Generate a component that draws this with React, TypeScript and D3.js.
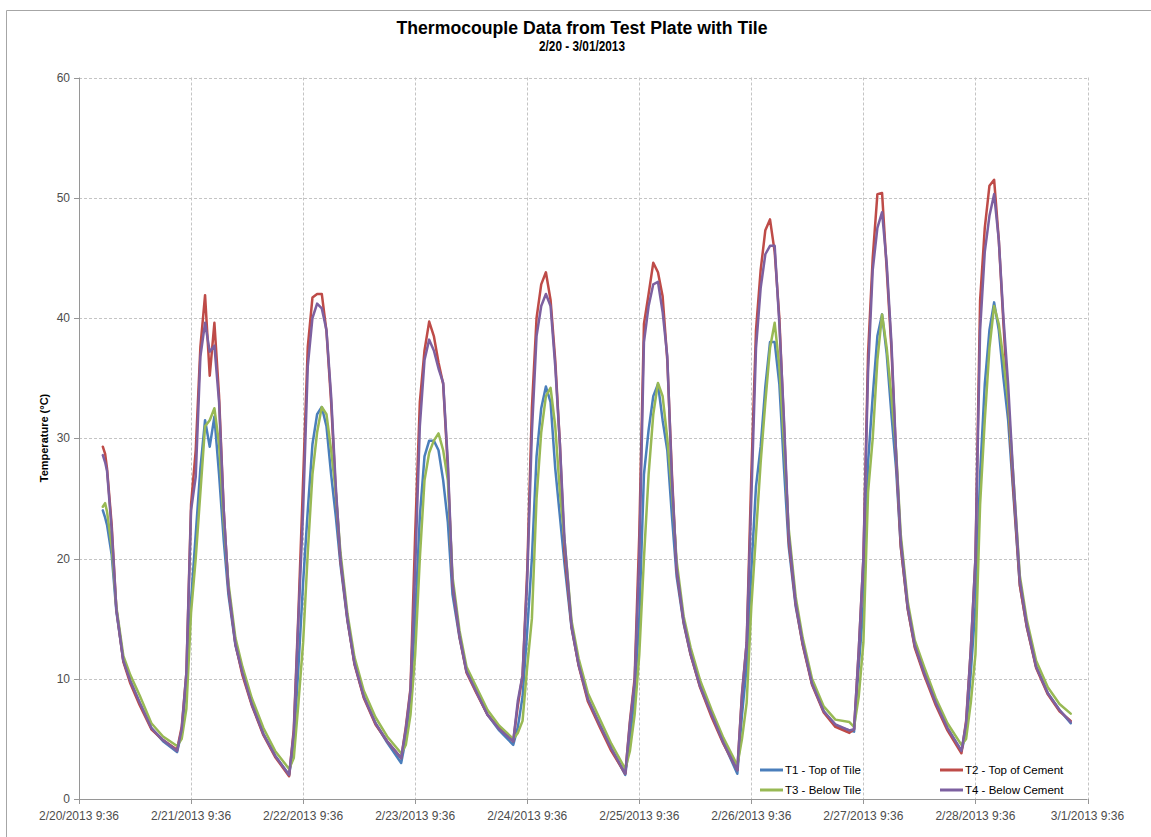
import * as d3 from 'd3';

// hours since 2/20/2013 9:36
const hours = [
  5.1, 5.6, 6, 7, 8, 9.5, 11, 13, 15.5, 18,
  21, 22, 23, 24, 25, 26, 27, 28, 29, 30, 31, 32, 33.5, 35, 37, 39.5, 42,
  45, 46, 47, 48, 49, 50, 51, 52, 53, 54, 55, 56, 57.5, 59, 61, 63.5, 66,
  69, 70, 71, 72, 73, 74, 75, 76, 77, 78, 79, 80, 81.5, 83, 85, 87.5, 90,
  93, 94, 95, 96, 97, 98, 99, 100, 101, 102, 103, 104, 105.5, 107, 109, 111.5, 114,
  117, 118, 119, 120, 121, 122, 123, 124, 125, 126, 127, 128, 129.5, 131, 133, 135.5, 138,
  141, 142, 143, 144, 145, 146, 147, 148, 149, 150, 151, 152, 153.5, 155, 157, 159.5, 162,
  165, 166, 167, 168, 169, 170, 171, 172, 173, 174, 175, 176, 177.5, 179, 181, 183.5, 186,
  189, 190, 191, 192, 193, 194, 195, 196, 197, 198, 199, 200, 201.5, 203, 205, 207.5, 210,
  212.4,
];

const t1TopOfTile = [
  24.0, 23.4, 22.8, 20.3, 15.6, 11.5, 9.8, 8.0, 5.9, 4.8,
  3.9, 5.6, 9.5, 16.5, 22.0, 27.5, 31.5, 29.3, 31.8, 27.0, 21.5, 17.0, 12.8, 10.5, 7.9, 5.4, 3.6,
  2.0, 4.5, 11.0, 18.0, 24.0, 29.5, 32.0, 32.6, 31.0, 27.0, 23.5, 19.5, 14.8, 11.3, 8.5, 6.3, 4.7,
  3.0, 5.0, 8.5, 15.0, 23.5, 28.5, 29.8, 29.8, 29.0, 26.5, 23.0, 17.0, 13.4, 10.6, 9.0, 7.0, 5.7,
  4.5, 6.0, 8.5, 14.0, 20.0, 28.5, 32.5, 34.3, 33.0, 27.5, 23.5, 19.5, 14.2, 11.2, 8.3, 6.2, 4.2,
  2.0, 5.0, 8.5, 15.0, 27.0, 30.7, 33.5, 34.5, 31.5, 29.0, 23.5, 18.5, 14.6, 12.0, 9.4, 7.0, 4.7,
  2.1, 7.0, 11.0, 19.0, 26.0, 29.3, 34.3, 38.0, 38.0, 34.5, 27.5, 21.0, 16.0, 12.9, 9.6, 7.3, 6.1,
  5.7, 5.6, 11.0, 16.0, 28.0, 33.5, 38.5, 40.3, 37.0, 32.0, 27.5, 21.0, 15.8, 12.7, 10.5, 8.0, 5.9,
  4.0, 5.5, 10.5, 16.0, 27.0, 34.5, 39.0, 41.3, 39.0, 35.0, 31.5, 26.0, 17.8, 14.3, 11.0, 8.8, 7.4,
  6.3,
];

const t2TopOfCement = [
  29.3, 28.7, 27.5, 22.8, 15.8, 11.4, 9.6, 7.8, 5.8, 4.9,
  4.1, 6.0, 10.5, 24.5, 29.0, 37.6, 41.9, 35.2, 39.6, 33.5, 24.0, 17.5, 12.9, 10.3, 7.8, 5.3, 3.5,
  1.9, 5.8, 15.5, 26.5, 37.6, 41.7, 42.0, 42.0, 38.9, 33.0, 25.5, 19.8, 14.9, 11.2, 8.4, 6.2, 4.8,
  3.4, 6.0, 9.2, 22.0, 33.0, 37.3, 39.7, 38.5, 36.3, 34.5, 27.5, 17.8, 13.5, 10.5, 8.9, 7.0, 5.9,
  4.8, 7.8, 10.3, 19.0, 32.5, 40.0, 42.8, 43.8, 41.5, 36.5, 29.5, 20.5, 14.3, 11.1, 8.1, 6.0, 4.0,
  2.1, 6.5, 10.0, 22.0, 39.5, 42.0, 44.6, 43.8, 41.8, 36.5, 27.0, 19.0, 14.7, 12.0, 9.3, 6.8, 4.6,
  2.4, 8.8, 13.0, 27.0, 39.0, 44.0, 47.3, 48.2, 45.5, 40.0, 31.0, 21.5, 16.2, 12.8, 9.5, 7.2, 6.0,
  5.5, 5.8, 12.3, 20.0, 37.0, 45.0, 50.3, 50.4, 44.0, 37.5, 28.5, 21.0, 15.8, 12.6, 10.3, 7.8, 5.7,
  3.8, 6.5, 12.4, 20.0, 41.5, 47.5, 51.0, 51.5, 46.5, 39.5, 33.0, 26.5, 17.8, 14.3, 10.9, 8.7, 7.3,
  6.5,
];

const t3BelowTile = [
  24.3, 24.6, 23.9, 21.0, 16.0, 11.9, 10.3, 8.6, 6.3, 5.2,
  4.4, 5.0, 7.5, 15.5, 20.0, 25.5, 31.0, 31.5, 32.5, 29.5, 23.0, 18.0, 13.4, 11.0, 8.4, 5.9, 4.0,
  2.5, 3.4, 8.0, 13.0, 20.5, 27.0, 30.5, 32.6, 32.0, 29.0, 25.5, 20.5, 15.4, 11.8, 9.0, 6.8, 5.2,
  3.8, 4.5, 7.0, 12.0, 20.0, 26.5, 28.8, 29.8, 30.4, 29.0, 26.5, 18.5, 14.0, 11.0, 9.4, 7.4, 6.1,
  5.0, 5.5, 6.5, 11.0, 15.0, 25.0, 30.5, 33.5, 34.2, 31.0, 25.5, 21.5, 14.8, 11.7, 8.8, 6.7, 4.6,
  2.5, 4.0, 7.0, 12.0, 20.0, 27.0, 32.0, 34.6, 33.5, 30.0, 25.5, 19.8, 15.2, 12.6, 9.9, 7.4, 5.1,
  2.8, 5.0, 8.0, 16.0, 22.0, 28.0, 33.0, 37.5, 39.6, 36.0, 29.5, 22.5, 16.8, 13.4, 10.0, 7.7, 6.6,
  6.4, 6.0, 8.5, 13.0, 25.5, 30.0, 36.5, 40.3, 37.5, 33.5, 29.0, 22.0, 16.4, 13.2, 11.0, 8.4, 6.3,
  4.5, 5.0, 8.0, 12.0, 24.5, 31.5, 37.5, 41.0, 39.5, 36.5, 33.0, 27.5, 18.6, 14.9, 11.5, 9.3, 7.9,
  7.1,
];

const t4BelowCement = [
  28.6, 28.0, 27.3, 22.4, 15.8, 11.5, 9.8, 8.0, 5.9, 4.9,
  4.0, 5.8, 10.5, 24.0, 26.8, 36.8, 39.6, 37.2, 37.7, 33.0, 24.0, 17.6, 12.9, 10.5, 7.9, 5.4, 3.6,
  2.0, 5.5, 15.0, 24.0, 36.0, 40.0, 41.2, 40.8, 39.0, 33.5, 26.0, 20.0, 15.0, 11.3, 8.5, 6.3, 4.8,
  3.4, 5.8, 9.0, 19.0, 31.0, 36.5, 38.2, 37.3, 35.8, 34.6, 28.0, 18.0, 13.6, 10.6, 9.0, 7.0, 5.8,
  4.8, 8.2, 10.3, 18.2, 30.5, 38.5, 41.0, 42.0, 41.0, 36.0, 29.5, 21.5, 14.4, 11.2, 8.3, 6.2, 4.2,
  2.1, 6.3, 9.7, 20.0, 38.0, 41.0, 42.8, 43.0, 40.5, 36.8, 26.5, 19.2, 14.8, 12.1, 9.4, 7.0, 4.7,
  2.4, 8.6, 13.0, 25.0, 37.5, 42.5, 45.3, 46.0, 46.0, 39.5, 31.5, 22.0, 16.3, 13.0, 9.6, 7.3, 6.2,
  5.7, 5.8, 12.3, 20.0, 35.5, 44.0, 47.5, 48.8, 44.5, 38.0, 28.8, 21.5, 16.0, 12.8, 10.5, 8.0, 5.9,
  4.0, 6.3, 12.4, 20.0, 39.0, 45.5, 48.5, 50.3, 46.5, 40.0, 34.5, 27.5, 18.2, 14.5, 11.0, 8.8, 7.4,
  6.4,
];

const dayTicks = [0, 24, 48, 72, 96, 120, 144, 168, 192, 216];
const dayLabels = [
  '2/20/2013 9:36', '2/21/2013 9:36', '2/22/2013 9:36', '2/23/2013 9:36', '2/24/2013 9:36',
  '2/25/2013 9:36', '2/26/2013 9:36', '2/27/2013 9:36', '2/28/2013 9:36', '3/1/2013 9:36',
];
const tempTicks = [0, 10, 20, 30, 40, 50, 60];

const seriesNames = ['T1 - Top of Tile', 'T2 - Top of Cement', 'T3 - Below Tile', 'T4 - Below Cement'];
const seriesValues = [t1TopOfTile, t2TopOfCement, t3BelowTile, t4BelowCement];
const seriesColors = ['#4A7EBB', '#BE4B48', '#98B954', '#7D60A0'];

const FONT = "'Liberation Sans', Arial, sans-serif";

export default function App() {
  const width = 1151;
  const height = 837;
  const plot = { left: 79, right: 1087.5, top: 77.5, bottom: 799 };

  const x = d3.scaleLinear().domain([0, 216]).range([plot.left, plot.right]);
  const y = d3.scaleLinear().domain([0, 60]).range([plot.bottom, plot.top]);

  const line = d3.line<number>()
    .x((_, i) => x(hours[i]))
    .y(d => y(d));

  // legend: 2 columns x 2 rows
  const legendPos = [
    { lx: 760, ly: 770 },
    { lx: 940, ly: 770 },
    { lx: 760, ly: 790 },
    { lx: 940, ly: 790 },
  ];

  return (
    <svg
      width={width}
      height={height}
      style={{ position: 'absolute', left: 0, top: 0, background: '#fff' }}
      fontFamily={FONT}
    >
      <rect x={0} y={0} width={width} height={height} fill="#fff" />
      {/* chart border */}
      <path d={`M6.5,${height} V10.5 H${width}`} fill="none" stroke="#a6a6a6" strokeWidth={1} />

      {/* titles */}
      <text x={582} y={34} textAnchor="middle" fontSize={18} fontWeight="bold" fill="#000"
        textLength={371} lengthAdjust="spacingAndGlyphs">
        Thermocouple Data from Test Plate with Tile
      </text>
      <text x={582} y={51} textAnchor="middle" fontSize={14} fontWeight="bold" fill="#000"
        textLength={86} lengthAdjust="spacingAndGlyphs">
        2/20 - 3/01/2013
      </text>

      {/* gridlines */}
      <g stroke="#c4c4c4" strokeWidth={1} strokeDasharray="3 2">
        {tempTicks.filter(t => t > 0).map(t => (
          <line key={'h' + t} x1={plot.left} x2={plot.right} y1={Math.round(y(t)) + 0.5} y2={Math.round(y(t)) + 0.5} />
        ))}
        {dayTicks.filter(t => t > 0).map(t => (
          <line key={'v' + t} x1={Math.round(x(t)) + 0.5} x2={Math.round(x(t)) + 0.5} y1={plot.top} y2={plot.bottom} />
        ))}
      </g>

      {/* axes */}
      <g stroke="#969696" strokeWidth={1}>
        <line x1={plot.left + 0.5} x2={plot.left + 0.5} y1={plot.top} y2={plot.bottom + 0.5} />
        <line x1={plot.left} x2={plot.right} y1={plot.bottom + 0.5} y2={plot.bottom + 0.5} />
        {tempTicks.map(t => (
          <line key={'yt' + t} x1={plot.left - 5} x2={plot.left} y1={Math.round(y(t)) + 0.5} y2={Math.round(y(t)) + 0.5} />
        ))}
        {dayTicks.map(t => (
          <line key={'xt' + t} x1={Math.round(x(t)) + 0.5} x2={Math.round(x(t)) + 0.5} y1={plot.bottom} y2={plot.bottom + 5} />
        ))}
      </g>

      {/* tick labels */}
      <g fontSize={12} fill="#4d4d4d">
        {tempTicks.map(t => (
          <text key={'yl' + t} x={plot.left - 9} y={y(t) + 4} textAnchor="end">{t}</text>
        ))}
        {dayTicks.map((t, i) => (
          <text key={'xl' + t} x={x(t)} y={plot.bottom + 21} textAnchor="middle">{dayLabels[i]}</text>
        ))}
      </g>

      {/* y axis title */}
      <text transform="translate(48,438) rotate(-90)" textAnchor="middle" fontSize={11} fontWeight="bold" fill="#000">
        Temperature (°C)
      </text>

      {/* series */}
      <g fill="none" strokeWidth={2.5} strokeLinejoin="round" strokeLinecap="round">
        {seriesValues.map((vals, i) => (
          <path key={seriesNames[i]} d={line(vals) || ''} stroke={seriesColors[i]} />
        ))}
      </g>

      {/* legend */}
      <g fontSize={11.5} fill="#000">
        {seriesNames.map((name, i) => (
          <g key={name}>
            <line x1={legendPos[i].lx} x2={legendPos[i].lx + 23} y1={legendPos[i].ly} y2={legendPos[i].ly}
              stroke={seriesColors[i]} strokeWidth={3} />
            <text x={legendPos[i].lx + 25} y={legendPos[i].ly + 4}>{name}</text>
          </g>
        ))}
      </g>
    </svg>
  );
}
